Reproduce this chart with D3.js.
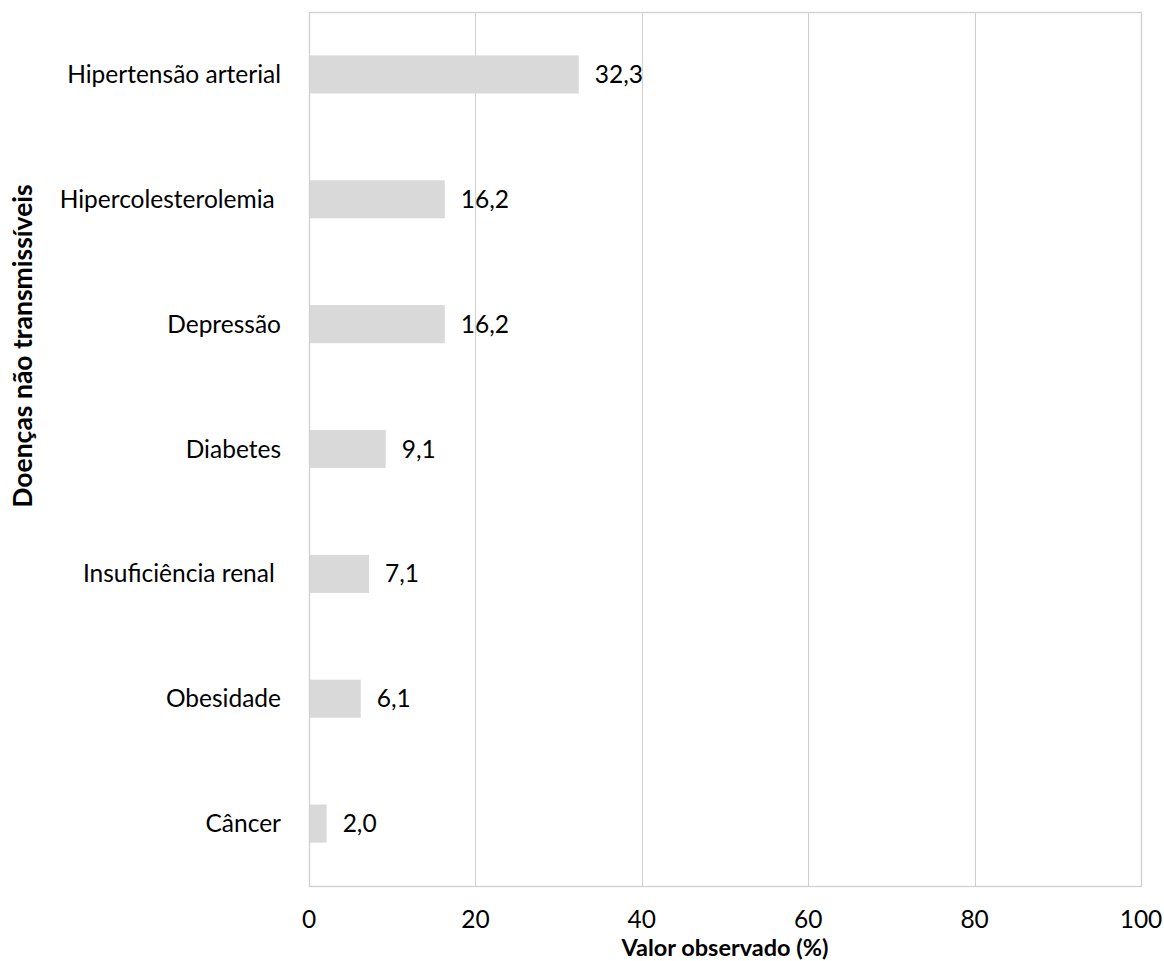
<!DOCTYPE html>
<html>
<head>
<meta charset="utf-8">
<script src="https://cdn.jsdelivr.net/npm/d3@7"></script>
<style>
  body { margin: 0; background: #fff; }
  text { font-family: Lato, "Open Sans", sans-serif; fill: #000; }
</style>
</head>
<body>
<svg id="chart"></svg>
<script>
(function (d3) {
  'use strict'
  // data
  const categories = ['Hipertensão arterial', 'Hipercolesterolemia ', 'Depressão', 'Diabetes', 'Insuficiência renal ', 'Obesidade', 'Câncer']
  const values = [32.3, 16.2, 16.2, 9.1, 7.1, 6.1, 2.0]
  const xTicks = [0, 20, 40, 60, 80, 100]
  const xTitle = 'Valor observado (%)'
  const yTitle = 'Doenças não transmissíveis'

  const W = 1164
  const H = 961
  const margin = { top: 12, right: 23, bottom: 75, left: 309 }
  const iw = W - margin.left - margin.right
  const ih = H - margin.top - margin.bottom

  const ptBR = d3.formatLocale({ decimal: ',', thousands: '.', grouping: [3], currency: ['R$', ''] })
  const fmt = ptBR.format('.1f')

  const svg = d3.select('#chart').attr('width', W).attr('height', H)
  const g = svg.append('g').attr('transform', `translate(${margin.left},${margin.top})`)

  const x = d3.scaleLinear().domain([0, 100]).range([0, iw])
  const y = d3.scaleBand().domain(categories).range([0, ih]).paddingInner(0.695).paddingOuter(0.3475)

  // grid + frame
  g.selectAll('line.grid')
    .data(xTicks)
    .enter().append('line')
    .attr('x1', d => Math.round(x(d)) + 0.5)
    .attr('x2', d => Math.round(x(d)) + 0.5)
    .attr('y1', 0).attr('y2', ih)
    .attr('stroke', '#d0d0d0').attr('stroke-width', 1)
  g.append('rect')
    .attr('x', 0.5).attr('y', 0.5)
    .attr('width', iw).attr('height', ih)
    .attr('fill', 'none').attr('stroke', '#d0d0d0').attr('stroke-width', 1.3)

  // bars
  g.selectAll('rect.bar')
    .data(values)
    .enter().append('rect')
    .attr('class', 'bar')
    .attr('x', x(0) + 1)
    .attr('y', (d, i) => y(categories[i]))
    .attr('width', d => x(d) - x(0))
    .attr('height', y.bandwidth())
    .attr('fill', '#d9d9d9')

  // value labels
  g.selectAll('text.val')
    .data(values)
    .enter().append('text')
    .attr('x', d => x(d) + 17)
    .attr('y', (d, i) => y(categories[i]) + y.bandwidth() / 2)
    .attr('dy', '0.35em')
    .style('font-size', '24.5px')
    .text(d => fmt(d))

  // category labels
  g.selectAll('text.cat')
    .data(categories)
    .enter().append('text')
    .attr('x', -28)
    .attr('y', d => y(d) + y.bandwidth() / 2)
    .attr('dy', '0.35em')
    .attr('text-anchor', 'end')
    .style('font-size', '24.5px')
    .style('white-space', 'pre')
    .text(d => d)

  // x tick labels (baseline)
  g.selectAll('text.tick')
    .data(xTicks)
    .enter().append('text')
    .attr('x', d => x(d))
    .attr('y', 927.5 - margin.top)
    .attr('text-anchor', 'middle')
    .style('font-size', '24.5px')
    .text(d => d)

  // axis titles
  svg.append('text')
    .attr('x', margin.left + iw / 2)
    .attr('y', 956)
    .attr('text-anchor', 'middle')
    .style('font-size', '23.5px')
    .style('font-weight', 'bold')
    .text(xTitle)

  svg.append('text')
    .attr('transform', 'translate(23,346) rotate(-90)')
    .attr('dy', '0.35em')
    .attr('text-anchor', 'middle')
    .style('font-size', '26.5px')
    .style('font-weight', 'bold')
    .text(yTitle)
}(d3))
</script>
</body>
</html>
